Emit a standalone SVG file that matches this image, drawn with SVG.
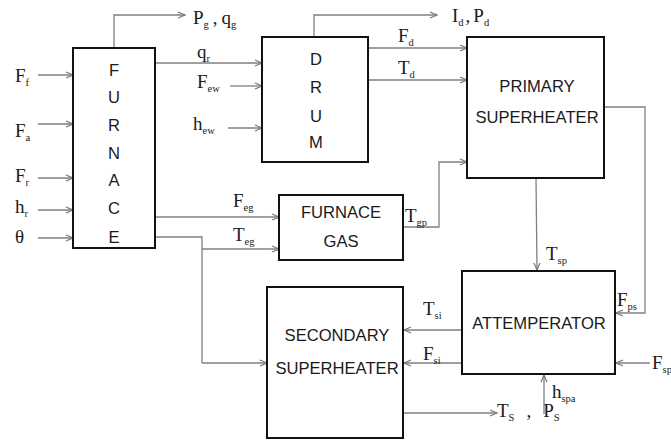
<svg xmlns="http://www.w3.org/2000/svg" width="671" height="442" viewBox="0 0 671 442">
<defs>
<marker id="ah" markerWidth="10" markerHeight="8" refX="8" refY="4" orient="auto" markerUnits="userSpaceOnUse">
<path d="M1,1 L8,4 L1,7" fill="none" stroke="#777" stroke-width="1.2"/>
</marker>
<style>
.box{fill:#fff;stroke:#111;stroke-width:2}
.ln{fill:none;stroke:#808080;stroke-width:1.3}
.ar{fill:none;stroke:#808080;stroke-width:1.3;marker-end:url(#ah)}
.bt{font-family:"Liberation Sans",Arial,sans-serif;font-size:16.6px;fill:#1a1a1a;text-anchor:middle}
.lb{font-family:"Liberation Serif","Times New Roman",serif;font-size:19px;fill:#1a1a1a}
.sb{font-size:10.5px}
</style>
</defs>
<rect width="671" height="442" fill="#fff"/>
<g id="connectors">
<path class="ar" d="M114,48 V15 H185"/>
<path class="ar" d="M38,75 H73"/>
<path class="ar" d="M38,124 H73"/>
<path class="ar" d="M38,178 H73"/>
<path class="ar" d="M38,210 H73"/>
<path class="ar" d="M38,238 H73"/>
<path class="ar" d="M155,63 H262"/>
<path class="ar" d="M230,86 H262"/>
<path class="ar" d="M228,128 H262"/>
<path class="ar" d="M314,37 V15 H437"/>
<path class="ar" d="M368,48 H467"/>
<path class="ar" d="M368,80 H467"/>
<path class="ar" d="M155,217 H279"/>
<path class="ln" d="M155,237 H202 V363"/>
<path class="ar" d="M202,249 H279"/>
<path class="ar" d="M202,363 H267"/>
<path class="ar" d="M403,227 H439 V162 H467"/>
<path class="ar" d="M536,178 L537,270"/>
<path class="ar" d="M604,107 H645 V313 H616"/>
<path class="ar" d="M462,330 H404"/>
<path class="ar" d="M462,363 H404"/>
<path class="ar" d="M650,363 H616"/>
<path class="ar" d="M544,414 V375"/>
<path class="ar" d="M403,413 H497"/>
</g>
<g id="furnace">
<rect class="box" x="73" y="48" width="82" height="200"/>
<text class="bt" x="114" y="76">F</text>
<text class="bt" x="114" y="103">U</text>
<text class="bt" x="114" y="131">R</text>
<text class="bt" x="114" y="159">N</text>
<text class="bt" x="114" y="186">A</text>
<text class="bt" x="114" y="214">C</text>
<text class="bt" x="114" y="243">E</text>
</g>
<g id="drum">
<rect class="box" x="262" y="37" width="106" height="125"/>
<text class="bt" x="316" y="65">D</text>
<text class="bt" x="316" y="93">R</text>
<text class="bt" x="316" y="122">U</text>
<text class="bt" x="316" y="148">M</text>
</g>
<g id="primary-superheater">
<rect class="box" x="467" y="37" width="137" height="141"/>
<text class="bt" x="537" y="92">PRIMARY</text>
<text class="bt" x="537" y="123">SUPERHEATER</text>
</g>
<g id="furnace-gas">
<rect class="box" x="279" y="195" width="124" height="65"/>
<text class="bt" x="341" y="218">FURNACE</text>
<text class="bt" x="341" y="247">GAS</text>
</g>
<g id="attemperator">
<rect class="box" x="462" y="271" width="153" height="103"/>
<text class="bt" x="539" y="329">ATTEMPERATOR</text>
</g>
<g id="secondary-superheater">
<rect class="box" x="267" y="287" width="136" height="151"/>
<text class="bt" x="337" y="341">SECONDARY</text>
<text class="bt" x="337" y="374">SUPERHEATER</text>
</g>
<g id="labels">
<text class="lb" x="15" y="82">F<tspan class="sb" dy="4">f</tspan></text>
<text class="lb" x="15" y="137">F<tspan class="sb" dy="4">a</tspan></text>
<text class="lb" x="15" y="182">F<tspan class="sb" dy="4">r</tspan></text>
<text class="lb" x="15" y="213">h<tspan class="sb" dy="4">r</tspan></text>
<text class="lb" x="15" y="243">θ</text>
<text class="lb" x="193" y="24">P<tspan class="sb" dy="4">g</tspan><tspan dy="-4" dx="4">,</tspan><tspan dx="4">q</tspan><tspan class="sb" dy="4">g</tspan></text>
<text class="lb" x="197" y="58">q<tspan class="sb" dy="4">r</tspan></text>
<text class="lb" x="197" y="88">F<tspan class="sb" dy="4">ew</tspan></text>
<text class="lb" x="193" y="130">h<tspan class="sb" dy="4">ew</tspan></text>
<text class="lb" x="452" y="22">I<tspan class="sb" dy="4">d</tspan><tspan dy="-4" dx="2">,</tspan><tspan dx="3">P</tspan><tspan class="sb" dy="4">d</tspan></text>
<text class="lb" x="398" y="42">F<tspan class="sb" dy="4">d</tspan></text>
<text class="lb" x="398" y="74">T<tspan class="sb" dy="4">d</tspan></text>
<text class="lb" x="233" y="207">F<tspan class="sb" dy="4">eg</tspan></text>
<text class="lb" x="233" y="241">T<tspan class="sb" dy="4">eg</tspan></text>
<text class="lb" x="405" y="222">T<tspan class="sb" dy="4">gp</tspan></text>
<text class="lb" x="546" y="260">T<tspan class="sb" dy="4">sp</tspan></text>
<text class="lb" x="617" y="306">F<tspan class="sb" dy="4">ps</tspan></text>
<text class="lb" x="423" y="315">T<tspan class="sb" dy="4">si</tspan></text>
<text class="lb" x="423" y="360">F<tspan class="sb" dy="4">si</tspan></text>
<text class="lb" x="652" y="369">F<tspan class="sb" dy="4">sp</tspan></text>
<text class="lb" x="552" y="398">h<tspan class="sb" dy="4">spa</tspan></text>
<text class="lb" x="497" y="417">T<tspan class="sb" dy="4">S</tspan><tspan dy="-4" dx="12">,</tspan><tspan dx="12">P</tspan><tspan class="sb" dy="4">S</tspan></text>
</g>
</svg>
